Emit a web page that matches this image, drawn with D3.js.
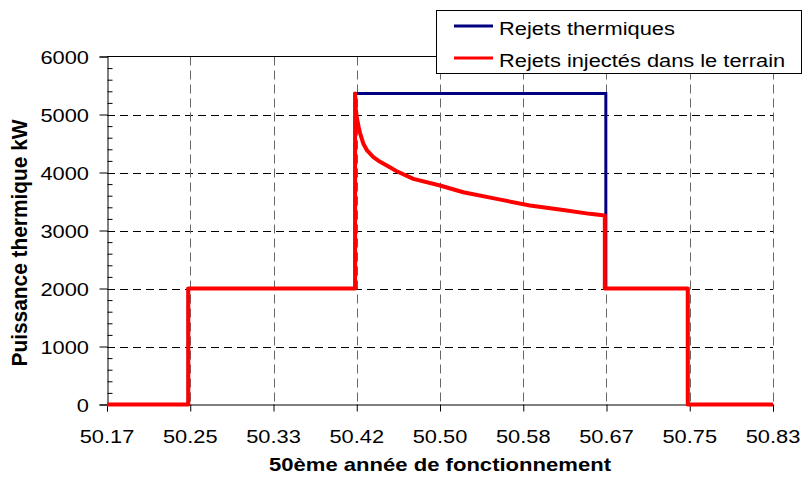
<!DOCTYPE html>
<html>
<head>
<meta charset="utf-8">
<script src="https://cdn.jsdelivr.net/npm/d3@7"></script>
<style>
  body { margin: 0; background: #fff; }
  text { font-family: "Liberation Sans", Arial, sans-serif; fill: #000; }
</style>
</head>
<body>
<svg id="chart" width="804" height="478"></svg>
<script>
// x axis ticks (years, labelled with 2 decimals)
const xTicks = [50 + 2/12, 50 + 3/12, 50 + 4/12, 50 + 5/12, 50 + 6/12, 50 + 7/12, 50 + 8/12, 50 + 9/12, 50 + 10/12];
const yTicks = [0, 1000, 2000, 3000, 4000, 5000, 6000];

// Rejets thermiques (step profile)
const thermX = [50.1667, 50.248, 50.248, 50.415, 50.415, 50.666, 50.666, 50.748, 50.748, 50.8333];
const thermY = [0, 0, 2000, 2000, 5360, 5360, 2000, 2000, 0, 0];

// Rejets injectés dans le terrain
const injX = [50.1667, 50.248, 50.248, 50.415, 50.415, 50.4157, 50.4167, 50.4185, 50.42, 50.4233,
  50.427, 50.4333, 50.44, 50.4467, 50.4567, 50.4733, 50.5, 50.5233, 50.5567, 50.59,
  50.6233, 50.65, 50.665, 50.665, 50.748, 50.748, 50.8333];
const injY = [0, 0, 2000, 2000, 5360, 5100, 4950, 4790, 4680, 4495,
  4380, 4265, 4185, 4120, 4022, 3890, 3776, 3660, 3545, 3430,
  3355, 3287, 3260, 2000, 2000, 0, 0];

const seriesNames = ['Rejets thermiques', 'Rejets injectés dans le terrain'];
const seriesColors = ['#000080', '#ff0000'];

const plotL = 107, plotR = 773, plotT = 56.5, plotB = 404.5;
const sx = 1.18; // horizontal stretch of the text

const svg = d3.select('#chart');

const x = d3.scaleLinear().domain([xTicks[0], xTicks[xTicks.length - 1]]).range([plotL, plotR]);
const y = d3.scaleLinear().domain([0, 6000]).range([plotB, plotT]);

// gridlines
svg.append('g')
  .selectAll('line')
  .data(yTicks.slice(1, -1))
  .enter().append('line')
  .attr('x1', plotL).attr('x2', plotR)
  .attr('y1', d => Math.round(y(d)) + 0.5).attr('y2', d => Math.round(y(d)) + 0.5)
  .attr('stroke', '#000').attr('stroke-dasharray', '8,5');

svg.append('g')
  .selectAll('line')
  .data(xTicks.slice(1))
  .enter().append('line')
  .attr('x1', d => Math.round(x(d)) + 0.5).attr('x2', d => Math.round(x(d)) + 0.5)
  .attr('y1', plotT).attr('y2', plotB)
  .attr('stroke', '#666').attr('stroke-dasharray', '9,5');

// top border
svg.append('line')
  .attr('x1', plotL).attr('x2', plotR).attr('y1', plotT).attr('y2', plotT)
  .attr('stroke', '#000');

// y axis: major ticks outside, minor ticks inside
const yAxis = svg.append('g')
  .attr('transform', 'translate(' + (plotL + 0.5) + ',0)')
  .call(d3.axisLeft(y).tickValues(yTicks).tickSize(8).tickFormat(''));
yAxis.selectAll('path, line').attr('stroke', '#000');
const yMinor = svg.append('g')
  .attr('transform', 'translate(' + (plotL + 0.5) + ',0)')
  .call(d3.axisRight(y).tickValues(d3.range(200, 6000, 200).filter(v => v % 1000 !== 0)).tickSize(5).tickFormat(''));
yMinor.select('.domain').remove();
yMinor.selectAll('line').attr('stroke', '#000');

// x axis
const xAxis = svg.append('g')
  .attr('transform', 'translate(0,' + plotB + ')')
  .call(d3.axisBottom(x).tickValues(xTicks).tickSize(7).tickFormat(''));
xAxis.selectAll('path, line').attr('stroke', '#000');

// tick labels (stretched like the reference)
yTicks.forEach(v => {
  svg.append('text')
    .attr('transform', 'translate(89,' + (y(v) + 7) + ') scale(' + sx + ',1)')
    .attr('text-anchor', 'end')
    .attr('font-size', 18.5)
    .text(v);
});
xTicks.forEach(v => {
  svg.append('text')
    .attr('transform', 'translate(' + x(v) + ',443) scale(' + sx + ',1)')
    .attr('text-anchor', 'middle')
    .attr('font-size', 18.5)
    .text(d3.format('.2f')(v));
});

// axis titles
svg.append('text')
  .attr('x', (plotL + plotR) / 2).attr('y', 471)
  .attr('text-anchor', 'middle')
  .attr('font-size', 18.5).attr('font-weight', 'bold')
  .attr('textLength', 342).attr('lengthAdjust', 'spacingAndGlyphs')
  .text('50ème année de fonctionnement');

svg.append('text')
  .attr('transform', 'translate(27,243) rotate(-90)')
  .attr('text-anchor', 'middle')
  .attr('font-size', 21.5).attr('font-weight', 'bold')
  .attr('textLength', 247).attr('lengthAdjust', 'spacingAndGlyphs')
  .text('Puissance thermique kW');

// series
const line = d3.line().x(d => x(d[0])).y(d => y(d[1]));
const thermData = thermX.map((v, i) => [v, thermY[i]]);
const injData = injX.map((v, i) => [v, injY[i]]);

svg.append('path').datum(thermData)
  .attr('d', line).attr('fill', 'none')
  .attr('stroke', seriesColors[0]).attr('stroke-width', 3);
svg.append('path').datum(injData)
  .attr('d', line).attr('fill', 'none')
  .attr('stroke', seriesColors[1]).attr('stroke-width', 4)
  .attr('stroke-linejoin', 'round');

// legend
const lg = svg.append('g');
lg.append('rect')
  .attr('x', 436.5).attr('y', 10.5).attr('width', 365).attr('height', 63)
  .attr('fill', '#fff').attr('stroke', '#000');
seriesNames.forEach((name, i) => {
  const ly = 26 + i * 32;
  lg.append('line')
    .attr('x1', 454).attr('x2', 493).attr('y1', ly).attr('y2', ly)
    .attr('stroke', seriesColors[i]).attr('stroke-width', 3);
  lg.append('text')
    .attr('transform', 'translate(499,' + (ly + 9) + ') scale(' + sx + ',1)')
    .attr('font-size', 18.5)
    .text(name);
});
</script>
</body>
</html>
